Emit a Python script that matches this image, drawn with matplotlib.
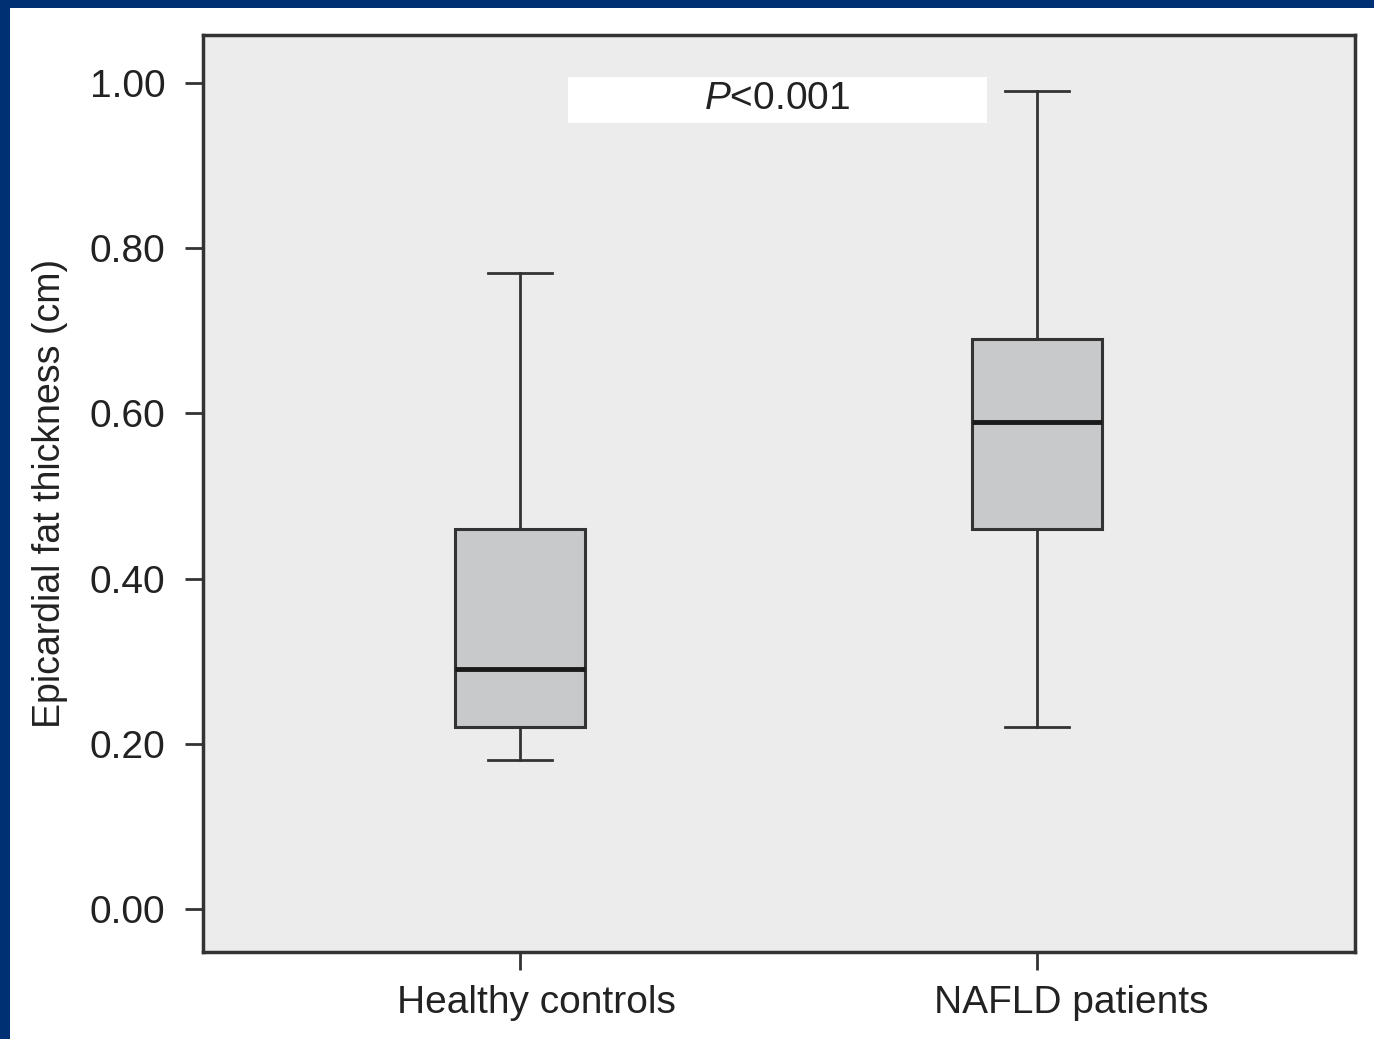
import matplotlib
matplotlib.use("Agg")
import matplotlib.pyplot as plt
from matplotlib.patches import Rectangle
from matplotlib.transforms import ScaledTranslation

# Summary statistics of epicardial fat thickness (cm)
groups = ["Healthy controls", "NAFLD patients"]
whisker_low = [0.18, 0.22]
q1 = [0.22, 0.46]
median = [0.29, 0.59]
q3 = [0.46, 0.69]
whisker_high = [0.77, 0.99]
yticks = [0.00, 0.20, 0.40, 0.60, 0.80, 1.00]
p_text = "$\\mathit{P}$<0.001"

plt.rcParams["font.family"] = ["Liberation Sans", "DejaVu Sans"]
plt.rcParams["mathtext.fontset"] = "custom"
plt.rcParams["mathtext.it"] = "Liberation Sans:italic"
plt.rcParams["mathtext.rm"] = "Liberation Sans"

fig = plt.figure(figsize=(13.74, 10.39), dpi=100)
fig.patch.set_facecolor("white")

# dark blue frame strips along the top and left edges
fig.add_artist(Rectangle((0, 1 - 8 / 1039), 1, 8 / 1039, transform=fig.transFigure,
                         facecolor="#003074", edgecolor="none"))
fig.add_artist(Rectangle((0, 0), 10 / 1374, 1, transform=fig.transFigure,
                         facecolor="#003074", edgecolor="none"))

ax = fig.add_axes([203 / 1374, 1 - 952 / 1039, (1355 - 203) / 1374, (952 - 35) / 1039])
ax.set_facecolor("#ececec")

stats = []
for i in range(len(groups)):
    stats.append(dict(whislo=whisker_low[i], q1=q1[i], med=median[i], q3=q3[i],
                      whishi=whisker_high[i], fliers=[], label=groups[i]))

edge = "#333333"
ax.bxp(stats, positions=[1, 2], widths=0.253, patch_artist=True, showfliers=False,
       boxprops=dict(facecolor="#c8c9cb", edgecolor=edge, linewidth=2.2),
       medianprops=dict(color="#1a1a1a", linewidth=3.5),
       whiskerprops=dict(color=edge, linewidth=2.0),
       capprops=dict(color=edge, linewidth=2.0),
       capwidths=0.124)

ax.set_xlim(0.387, 2.615)
ax.set_ylim(-0.052, 1.058)
ax.set_yticks(yticks)
ax.set_yticklabels([f"{v:.2f}" for v in yticks])
ax.set_xticks([1, 2])
ax.set_xticklabels(groups)

ax.tick_params(axis="y", length=13, width=2, color=edge, pad=14, labelsize=28, labelcolor="#222222")
ax.tick_params(axis="x", length=13, width=2, color=edge, pad=11, labelsize=28, labelcolor="#222222")
for s in ax.spines.values():
    s.set_linewidth(2.5)
    s.set_color(edge)

# category labels sit slightly to the right of their ticks
for lbl, dx in zip(ax.get_xticklabels(), [16, 34]):
    lbl.set_transform(lbl.get_transform() + ScaledTranslation(dx / 100, 0, fig.dpi_scale_trans))

ax.set_ylabel("Epicardial fat thickness (cm)", fontsize=27, color="#222222", labelpad=16)

# significance annotation
ax.add_patch(Rectangle((1.093, 0.952), 0.81, 0.055, facecolor="white", edgecolor="none", zorder=3))
ax.text(1.498, 0.980, p_text, ha="center", va="center", fontsize=28, color="#222222", zorder=4)

fig.savefig("out.png", dpi=100)
